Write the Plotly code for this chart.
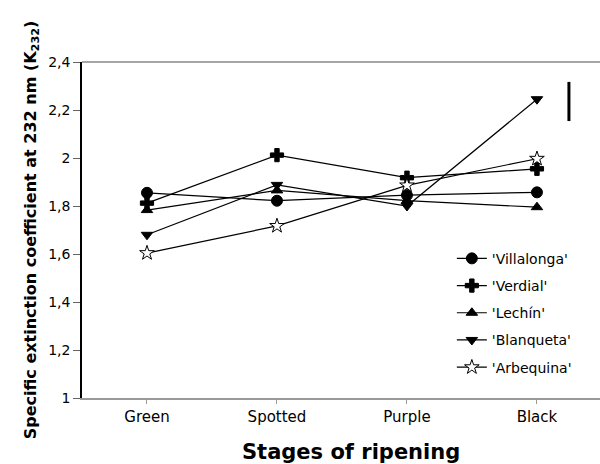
import plotly.graph_objects as go

stages = ["Green", "Spotted", "Purple", "Black"]
villalonga = [1.855, 1.822, 1.845, 1.857]
verdial = [1.812, 2.012, 1.918, 1.955]
lechin = [1.783, 1.865, 1.822, 1.795]
blanqueta = [1.680, 1.888, 1.800, 2.245]
arbequina = [1.604, 1.717, 1.886, 1.997]
series_names = ["'Villalonga'", "'Verdial'", "'Lechín'", "'Blanqueta'", "'Arbequina'"]
y_ticks = [1.0, 1.2, 1.4, 1.6, 1.8, 2.0, 2.2, 2.4]
y_ticklabels = ["1", "1,2", "1,4", "1,6", "1,8", "2", "2,2", "2,4"]
lsd_x = 3.246
lsd_range = [2.154, 2.317]

series = [villalonga, verdial, lechin, blanqueta, arbequina]
symbols = ["circle", "cross", "triangle-up", "triangle-down", "star"]
fills = ["black", "black", "black", "black", "white"]
sizes = [11, 11, 10, 10, 11]

fig = go.Figure()
for i, (name, vals) in enumerate(zip(series_names, series)):
    fig.add_trace(go.Scatter(
        x=stages, y=vals, name=name, mode="lines+markers",
        line=dict(color="black", width=1.2),
        marker=dict(symbol=symbols[i], size=sizes[i], color=fills[i],
                    line=dict(color="black", width=1)),
        legendgroup=str(i),
    ))

fig.add_shape(type="line", xref="x", yref="y", x0=lsd_x, x1=lsd_x,
              y0=lsd_range[0], y1=lsd_range[1],
              line=dict(color="black", width=3))

# top frame line
fig.add_shape(type="line", xref="paper", yref="paper", x0=0, x1=1, y0=1, y1=1,
              line=dict(color="#888888", width=1.5))

fig.update_layout(
    width=600, height=464,
    margin=dict(l=82, r=0, t=62, b=66),
    paper_bgcolor="white", plot_bgcolor="white",
    font=dict(family="DejaVu Sans, Arial, sans-serif", color="black", size=13),
    showlegend=True,
    legend=dict(x=0.714, y=0.462, xanchor="left", yanchor="top",
                bgcolor="rgba(0,0,0,0)", tracegroupgap=6,
                font=dict(size=14), itemwidth=30),
    xaxis=dict(
        type="category", range=[-0.5, 3.485],
        showline=True, linecolor="#999999", linewidth=1.5,
        ticks="outside", ticklen=4, tickcolor="#999999",
        tickfont=dict(size=15), showgrid=False, zeroline=False,
    ),
    yaxis=dict(
        range=[1.0, 2.4], tickvals=y_ticks, ticktext=y_ticklabels,
        showline=True, linecolor="black", linewidth=1.5,
        ticks="outside", ticklen=7, tickcolor="#666666",
        tickfont=dict(size=14), showgrid=False, zeroline=False,
        title=dict(text="<b>Specific extinction coefficient at 232 nm (K<sub>232</sub>)</b>",
                   font=dict(size=16), standoff=8),
    ),
    annotations=[dict(
        text="<b>Stages of ripening</b>", xref="paper", yref="paper",
        x=(351 - 82) / 518, y=-0.16, xanchor="center", yanchor="middle",
        showarrow=False, font=dict(size=21),
    )],
)

fig.write_html("out.html")
